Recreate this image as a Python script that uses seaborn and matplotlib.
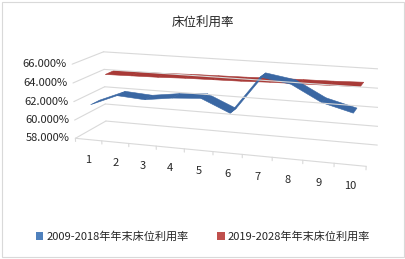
import matplotlib
matplotlib.use('Agg')
import matplotlib.pyplot as plt
import seaborn as sns
from matplotlib.patches import Patch, Rectangle
from mpl_toolkits.mplot3d import proj3d
from mpl_toolkits.mplot3d.art3d import Poly3DCollection

# data (values in %)
periods = list(range(1, 11))
rate_2009_2018 = [61.6, 62.8, 62.6, 63.0, 63.2, 61.9, 65.8, 65.3, 63.7, 62.9]
rate_2019_2028 = [64.1, 64.15, 64.2, 64.3, 64.35, 64.4, 64.5, 64.55, 64.6, 64.7]
series_names = ['2009-2018年年末床位利用率', '2019-2028年年末床位利用率']
z_ticks = [58, 60, 62, 64, 66]
title = '床位利用率'

sns.set_theme(style='white')
plt.rcParams['font.family'] = ['Noto Sans CJK SC', 'DejaVu Sans']

legend_colors = ['#4F81BD', '#C0504D']
ribbon_colors = ['#3A67A3', '#A83A37']
grid_color = '#D9D9D9'
text_color = '#262626'

fig = plt.figure(figsize=(4.06, 2.59), dpi=100)
# oversized axes so the 3D box is never clipped; its centre sits where the plot is
ax = fig.add_axes([-0.175, -0.03, 1.434, 1.22], projection='3d')
ax.set_axis_off()
ax.set_xticks([])
ax.set_yticks([])
ax.set_zticks([])
ax.computed_zorder = False
ax.set_proj_type('persp', focal_length=0.5)
ax.view_init(elev=14, azim=-72)
ax.set_box_aspect((10, 2.4, 2.6), zoom=0.97)

xmin, xmax = 0.5, 10.5
ymin, ymax = 0.0, 2.0
zmin, zmax = z_ticks[0], z_ticks[-1]
ax.set_xlim(xmin, xmax)
ax.set_ylim(ymin, ymax)
ax.set_zlim(zmin, zmax)

# back wall and side wall gridlines
for z in z_ticks:
    ax.plot([xmin, xmax], [ymax, ymax], [z, z], color=grid_color, lw=0.8)
    ax.plot([xmin, xmin], [ymin, ymax], [z, z], color=grid_color, lw=0.8)

# floor front edge with tick marks
ax.plot([xmin, xmax], [ymin, ymin], [zmin, zmin], color=grid_color, lw=0.8)
for b in [p - 0.5 for p in periods] + [xmax]:
    ax.plot([b, b], [ymin, ymin], [zmin, zmin - 0.35], color=grid_color, lw=0.8)


def ribbon(vals, y0, y1, color):
    polys = []
    for i in range(len(vals) - 1):
        x0, x1 = periods[i], periods[i + 1]
        v0, v1 = vals[i], vals[i + 1]
        polys.append([(x0, y0, v0), (x1, y0, v1), (x1, y1, v1), (x0, y1, v0)])
    pc = Poly3DCollection(polys, facecolor=color, edgecolor=color, linewidth=0.4)
    ax.add_collection3d(pc)


# back series first, front series on top
ribbon(rate_2019_2028, 1.22, 1.78, ribbon_colors[1])
ribbon(rate_2009_2018, 0.22, 0.78, ribbon_colors[0])

# tick labels: project the 3D anchor points, then place them as 2D annotations
fig.canvas.draw()
M = ax.get_proj()
for z in z_ticks:
    px, py, _ = proj3d.proj_transform(xmin, ymin, z, M)
    ax.annotate(f'{z:.3f}%', xy=(px, py), xycoords='data', xytext=(-4, 0),
                textcoords='offset points', ha='right', va='center',
                fontsize=8, color=text_color, annotation_clip=False)
for p in periods:
    px, py, _ = proj3d.proj_transform(p, ymin, zmin, M)
    ax.annotate(str(p), xy=(px, py), xycoords='data', xytext=(0, -15),
                textcoords='offset points', ha='center', va='center',
                fontsize=8, color=text_color, annotation_clip=False)

fig.text(0.5, 0.915, title, ha='center', va='center', fontsize=9, color=text_color)

handles = [Patch(facecolor=c, edgecolor='none') for c in legend_colors]
fig.legend(handles, series_names, loc='center', bbox_to_anchor=(0.5, 0.085), ncol=2,
           frameon=False, fontsize=8, handlelength=0.7, handleheight=0.7,
           handletextpad=0.3, columnspacing=2.5, labelcolor=text_color)

fig.patches.append(Rectangle((0.004, 0.006), 0.99, 0.988, transform=fig.transFigure,
                             fill=False, edgecolor=grid_color, lw=0.8))

fig.savefig('out.png', dpi=100, facecolor='white')
